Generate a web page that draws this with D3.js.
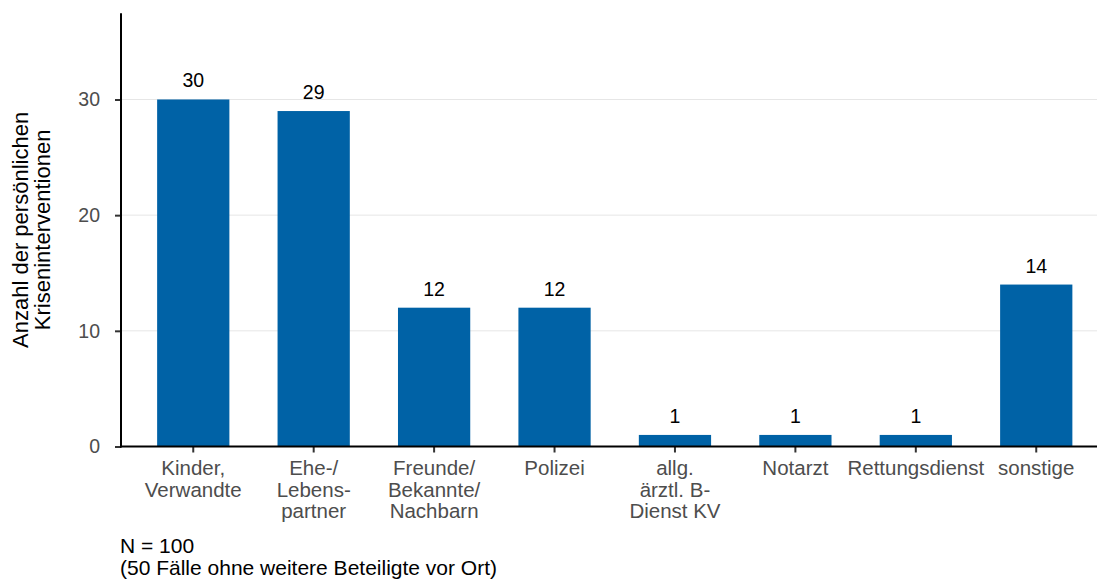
<!DOCTYPE html>
<html>
<head>
<meta charset="utf-8">
<script src="https://cdn.jsdelivr.net/npm/d3@7"></script>
<style>
  html, body { margin: 0; padding: 0; background: #fff; }
  svg { display: block; font-family: "Liberation Sans", Arial, Helvetica, sans-serif; }
</style>
</head>
<body>
<svg id="chart" width="1097" height="579"></svg>
<script>
const categories = [
  ["Kinder,", "Verwandte"],
  ["Ehe-/", "Lebens-", "partner"],
  ["Freunde/", "Bekannte/", "Nachbarn"],
  ["Polizei"],
  ["allg.", "ärztl. B-", "Dienst KV"],
  ["Notarzt"],
  ["Rettungsdienst"],
  ["sonstige"]
];
const values = [30, 29, 12, 12, 1, 1, 1, 14];
const yTicks = [0, 10, 20, 30];
const yTitle = ["Anzahl der persönlichen", "Kriseninterventionen"];
const caption = ["N = 100", "(50 Fälle ohne weitere Beteiligte vor Ort)"];

const svg = d3.select("#chart");
const keys = categories.map((c, i) => i);

const x = d3.scaleBand()
  .domain(keys)
  .range([121, 1108.5])
  .paddingInner(0.4)
  .paddingOuter(0.3);

const y = d3.scaleLinear()
  .domain([0, 37.45])
  .range([446.5, 13.3]);

// gridlines
svg.append("g")
  .selectAll("line")
  .data(yTicks.filter(d => d > 0))
  .join("line")
  .attr("x1", 121).attr("x2", 1097)
  .attr("y1", d => y(d)).attr("y2", d => y(d))
  .attr("stroke", "#e6e6e6").attr("stroke-width", 1);

// bars
svg.append("g")
  .selectAll("rect")
  .data(values)
  .join("rect")
  .attr("x", (d, i) => x(i))
  .attr("width", x.bandwidth())
  .attr("y", d => y(d))
  .attr("height", d => y(0) - y(d))
  .attr("fill", "#0062a6");

// value labels
svg.append("g")
  .selectAll("text")
  .data(values)
  .join("text")
  .attr("x", (d, i) => x(i) + x.bandwidth() / 2)
  .attr("y", d => y(d) - 12)
  .attr("text-anchor", "middle")
  .attr("font-size", 19.5)
  .attr("fill", "#000")
  .text(d => d);

// y axis
const yAxis = svg.append("g")
  .attr("transform", "translate(121,0)")
  .call(d3.axisLeft(y).tickValues(yTicks).tickSize(6).tickPadding(15));
yAxis.select(".domain").remove();
yAxis.selectAll(".tick line").attr("stroke", "#333").attr("stroke-width", 2);
yAxis.selectAll(".tick text").attr("font-size", 19.5).attr("fill", "#4d4d4d")
  .attr("font-family", "Liberation Sans, Arial, sans-serif");
svg.append("line")
  .attr("x1", 121).attr("x2", 121)
  .attr("y1", y.range()[1]).attr("y2", y(0) + 1)
  .attr("stroke", "#000").attr("stroke-width", 2);

// x axis
const xAxis = svg.append("g")
  .attr("transform", `translate(0,${y(0)})`)
  .call(d3.axisBottom(x).tickSize(6).tickFormat(""));
xAxis.select(".domain").remove();
xAxis.selectAll(".tick line").attr("stroke", "#333").attr("stroke-width", 2);
svg.append("line")
  .attr("x1", 120).attr("x2", 1097)
  .attr("y1", y(0)).attr("y2", y(0))
  .attr("stroke", "#000").attr("stroke-width", 2);

// x labels
const xl = svg.append("g")
  .selectAll("text")
  .data(categories)
  .join("text")
  .attr("x", (d, i) => x(i) + x.bandwidth() / 2)
  .attr("y", 475)
  .attr("text-anchor", "middle")
  .attr("font-size", 20.5)
  .attr("fill", "#4d4d4d");
xl.selectAll("tspan")
  .data(d => d)
  .join("tspan")
  .attr("x", function() { return d3.select(this.parentNode).attr("x"); })
  .attr("dy", (d, i) => i === 0 ? 0 : 21.5)
  .text(d => d);

// y title
const yt = svg.append("text")
  .attr("transform", `translate(28,${(y.range()[0] + y.range()[1]) / 2}) rotate(-90)`)
  .attr("text-anchor", "middle")
  .attr("font-size", 22)
  .attr("fill", "#000");
yt.selectAll("tspan")
  .data(yTitle)
  .join("tspan")
  .attr("x", 0)
  .attr("dy", (d, i) => i === 0 ? 0 : 22)
  .text(d => d);

// caption
svg.append("g")
  .selectAll("text")
  .data(caption)
  .join("text")
  .attr("x", 120)
  .attr("y", (d, i) => 553 + i * 21.5)
  .attr("font-size", 21)
  .attr("fill", "#000")
  .text(d => d);
</script>
</body>
</html>
